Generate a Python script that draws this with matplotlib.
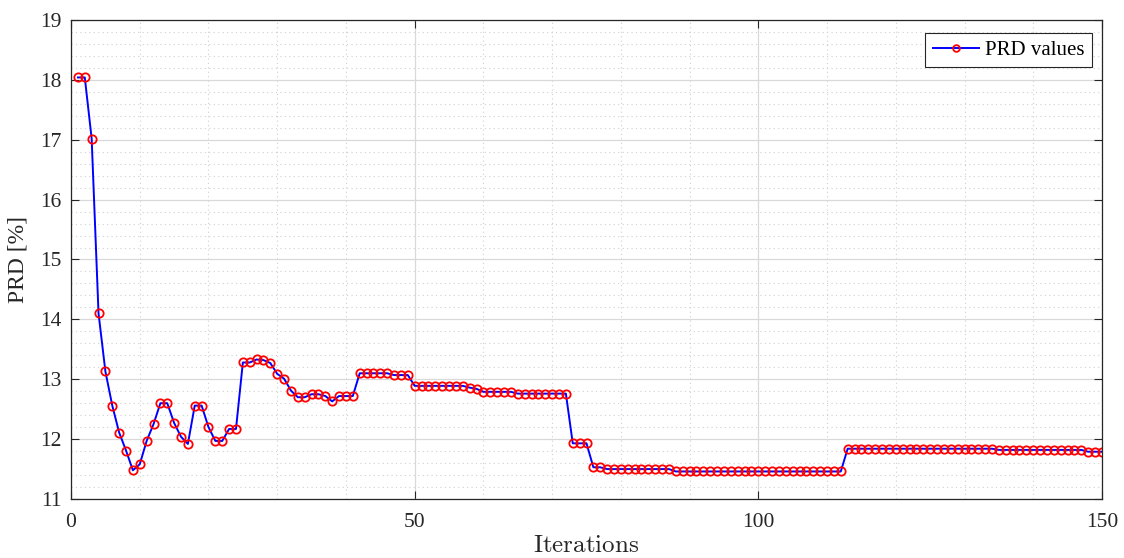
import matplotlib
matplotlib.use('Agg')
import matplotlib.pyplot as plt
from matplotlib.ticker import MultipleLocator

plt.rcParams['font.family'] = ['Liberation Serif', 'DejaVu Serif']
plt.rcParams['mathtext.fontset'] = 'cm'

# PRD value per iteration
prd_head = [18.04, 18.04, 17.02, 14.10, 13.13, 12.56, 12.11, 11.81, 11.48, 11.58,
            11.97, 12.25, 12.60, 12.60, 12.27, 12.04, 11.92, 12.56, 12.56, 12.20,
            11.97, 11.97, 12.17, 12.17, 13.28, 13.28, 13.33, 13.32, 13.27, 13.09,
            13.01, 12.81, 12.70, 12.70, 12.75, 12.75, 12.72, 12.63, 12.72, 12.72,
            12.72, 13.10, 13.10, 13.10, 13.10, 13.10, 13.07, 13.07, 13.07]
prd_mid = ([12.89] * 8 + [12.86, 12.84] + [12.79] * 5 + [12.76] * 8
           + [11.93] * 3 + [11.53] * 2 + [11.50] * 10 + [11.46] * 25)
prd_tail = [11.84] * 22 + [11.82] * 13 + [11.79] * 3
prd = prd_head + prd_mid + prd_tail
iters = list(range(1, len(prd) + 1))

fig = plt.figure(figsize=(11.24, 5.58), dpi=100, facecolor='white')
ax = fig.add_axes([0.0632, 0.1057, 0.9172, 0.8585])

ax.plot(iters, prd, '-', color='blue', lw=1.4, marker='o', ms=6,
        mfc='none', mec='red', mew=1.3, label='PRD values')

ax.set_xlim(0, 150)
ax.set_ylim(11, 19)
ax.xaxis.set_major_locator(MultipleLocator(50))
ax.xaxis.set_minor_locator(MultipleLocator(10))
ax.yaxis.set_major_locator(MultipleLocator(1))
ax.yaxis.set_minor_locator(MultipleLocator(0.2))

ax.grid(which='major', color='#d9d9d9', lw=0.9, ls='-')
ax.grid(which='minor', color='#d0d0d0', lw=0.8, ls=(0, (1, 3)))
ax.set_axisbelow(True)

ax.tick_params(which='major', direction='in', length=6, width=0.8,
               top=True, right=True, labelsize=15.5, colors='#262626')
ax.tick_params(axis='x', which='major', pad=10)
ax.tick_params(axis='y', which='major', pad=7)
ax.tick_params(which='minor', length=0)
for s in ax.spines.values():
    s.set_color('#262626')
    s.set_linewidth(0.9)

ax.set_xlabel(r'$\mathrm{Iterations}$', fontsize=18, labelpad=2, color='#262626')
ax.set_ylabel('PRD [%]', fontsize=17, labelpad=8, color='#262626')

leg = ax.legend(loc='upper right', fontsize=15, fancybox=False, framealpha=1,
                edgecolor='#262626', handlelength=2.2, handletextpad=0.3,
                borderpad=0.35, markerscale=0.8,
                bbox_to_anchor=(1.0, 0.994))
leg.get_frame().set_linewidth(0.8)

fig.savefig('out.png', dpi=100)
